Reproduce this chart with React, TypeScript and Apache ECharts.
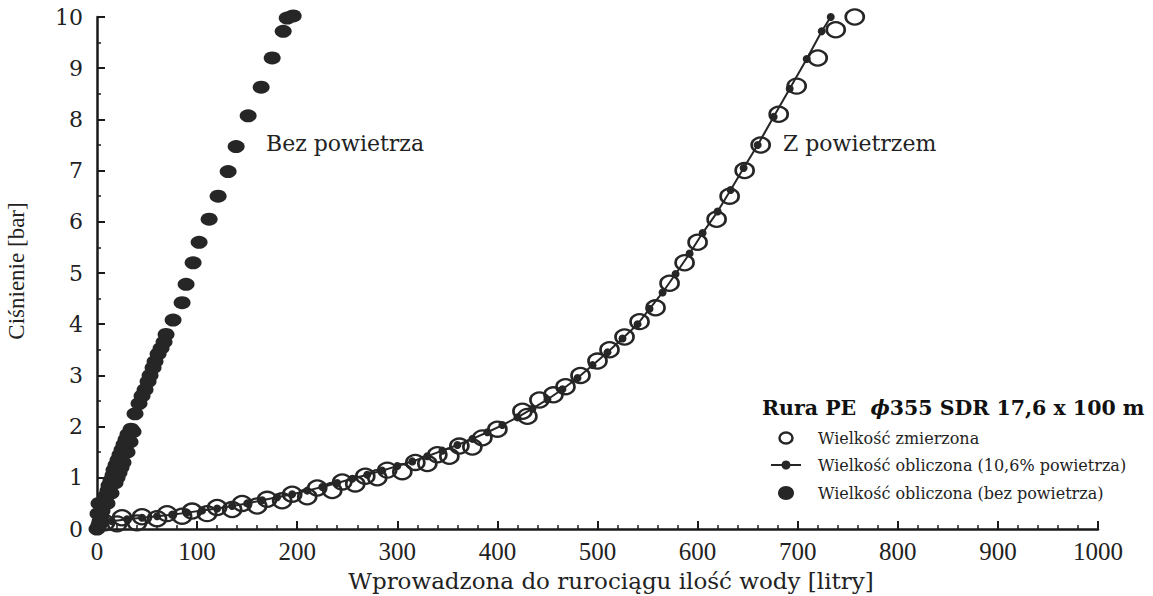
import React, { useEffect, useRef } from "react";
import * as echarts from "echarts";

// x: water volume introduced [litres], y: pressure [bar]
const bezPowietrza: [number, number][] = [
  [0, 0], [1, 0.3], [2, 0.08], [2, 0.5], [3, 0.15], [4, 0.25], [5, 0.35], [6, 0.45], [8, 0.55],
  [9, 0.65], [10, 0.5], [11, 0.75], [12, 0.85], [14, 0.7], [14, 0.95], [16, 1.05], [17, 1.15],
  [18, 0.9], [19, 1.25], [20, 1.0], [21, 1.35], [22, 1.1], [23, 1.45], [24, 1.2], [25, 1.55],
  [26, 1.3], [27, 1.65], [29, 1.75], [30, 1.5], [31, 1.85], [33, 1.7], [34, 1.95], [36, 1.9],
  [38, 2.25], [42, 2.45], [45, 2.6], [48, 2.72], [51, 2.88], [53, 3.0], [56, 3.15], [58, 3.27],
  [61, 3.42], [64, 3.53], [67, 3.65], [69, 3.8], [76, 4.08], [85, 4.42], [89, 4.78], [96, 5.2],
  [102, 5.6], [112, 6.05], [121, 6.5], [131, 6.98], [139, 7.47], [151, 8.07], [164, 8.63],
  [175, 9.2], [186, 9.72], [190, 9.98], [196, 10.02],
];

const obliczona: [number, number][] = [
  [0, 0], [5, 0.1], [15, 0.15], [30, 0.19], [45, 0.22], [60, 0.25], [75, 0.28], [90, 0.32],
  [105, 0.36], [120, 0.4], [135, 0.45], [150, 0.5], [165, 0.56], [180, 0.62], [195, 0.68],
  [210, 0.75], [225, 0.82], [240, 0.9], [255, 0.98], [270, 1.06], [285, 1.14], [300, 1.23],
  [315, 1.32], [330, 1.42], [345, 1.53], [360, 1.64], [375, 1.76], [390, 1.89], [405, 2.03],
  [420, 2.18], [435, 2.35], [450, 2.53], [465, 2.73], [480, 2.95], [495, 3.2], [510, 3.45],
  [525, 3.72], [540, 4.0], [552, 4.3], [565, 4.62], [578, 4.98], [592, 5.38], [605, 5.78],
  [620, 6.2], [633, 6.62], [646, 7.05], [660, 7.5], [676, 8.05], [692, 8.6], [709, 9.18],
  [724, 9.72], [733, 10.0],
];

const zmierzona: [number, number][] = [
  [8, 0.12], [20, 0.1], [25, 0.22], [40, 0.12], [45, 0.24], [60, 0.2], [70, 0.3], [85, 0.25],
  [95, 0.35], [110, 0.3], [120, 0.42], [135, 0.38], [145, 0.5], [160, 0.45], [170, 0.58],
  [185, 0.55], [195, 0.68], [210, 0.63], [220, 0.8], [235, 0.75], [245, 0.92], [258, 0.88],
  [268, 1.03], [280, 1.0], [290, 1.15], [305, 1.12], [318, 1.3], [330, 1.28], [340, 1.45],
  [352, 1.42], [362, 1.62], [375, 1.6], [385, 1.78], [400, 1.95], [425, 2.3], [430, 2.2],
  [442, 2.52], [456, 2.62], [468, 2.78], [483, 3.0], [500, 3.28], [512, 3.5], [527, 3.75],
  [542, 4.05], [558, 4.32], [572, 4.8], [587, 5.2], [600, 5.6], [619, 6.05], [632, 6.5],
  [647, 7.0], [663, 7.5], [681, 8.1], [699, 8.65], [720, 9.2], [738, 9.75], [757, 10.0],
];

const xTitle = "Wprowadzona do rurociągu ilość wody [litry]";
const yTitle = "Ciśnienie [bar]";
const legendTitle = "Rura PE";
const legendNames = [
  "Wielkość zmierzona",
  "Wielkość obliczona (10,6% powietrza)",
  "Wielkość obliczona (bez powietrza)",
];
const annotBez = "Bez powietrza";
const annotZ = "Z powietrzem";

const INK = "#262626";
const SERIF = "'Liberation Serif', 'DejaVu Serif', serif";
const WIDE = "'DejaVu Serif', 'Liberation Serif', serif";

export default function App() {
  const ref = useRef<HTMLDivElement>(null);
  useEffect(() => {
    if (!ref.current) return;
    const chart = echarts.init(ref.current, undefined, { renderer: "svg" });
    const axisCommon = {
      type: "value" as const,
      axisLine: { show: true, onZero: false, lineStyle: { color: "#1a1a1a", width: 2.5 } },
      axisTick: { show: true, inside: true, length: 8, lineStyle: { color: "#1a1a1a", width: 2 } },
      minorTick: { show: true, length: 4, lineStyle: { color: "#1a1a1a", width: 1.5 } },
      splitLine: { show: false },
      minorSplitLine: { show: false },
    };
    chart.setOption({
      animation: false,
      backgroundColor: "#ffffff",
      grid: { left: 97, right: 55, top: 17, bottom: 67, containLabel: false },
      xAxis: {
        ...axisCommon,
        min: 0,
        max: 1000,
        interval: 100,
        minorTick: { ...axisCommon.minorTick, splitNumber: 5 },
        axisLabel: {
          fontFamily: SERIF,
          fontSize: 25,
          color: "#222",
          margin: 10,
          formatter: (v: number) => String(v),
        },
      },
      yAxis: {
        ...axisCommon,
        min: 0,
        max: 10,
        interval: 1,
        minorTick: { ...axisCommon.minorTick, splitNumber: 2 },
        axisLabel: {
          fontFamily: WIDE,
          fontSize: 22,
          color: "#222",
          margin: 14,
          formatter: (v: number) => String(v),
        },
      },
      series: [
        {
          name: legendNames[2],
          type: "scatter",
          data: bezPowietrza,
          symbol: "circle",
          symbolSize: [17, 13],
          itemStyle: { color: INK, opacity: 1 },
          clip: false,
        },
        {
          name: legendNames[1],
          type: "line",
          data: obliczona,
          symbol: "circle",
          symbolSize: 8,
          showAllSymbol: true,
          lineStyle: { color: INK, width: 2 },
          itemStyle: { color: INK },
          clip: false,
        },
        {
          name: legendNames[0],
          type: "scatter",
          data: zmierzona,
          symbol: "circle",
          symbolSize: [18, 15],
          itemStyle: { color: "rgba(0,0,0,0)", borderColor: INK, borderWidth: 2.5, opacity: 1 },
          clip: false,
        },
      ],
      graphic: [
        {
          type: "text",
          x: 611,
          y: 581,
          style: { text: xTitle, font: `23px ${WIDE}`, fill: "#222", align: "center", verticalAlign: "middle" },
        },
        {
          type: "text",
          x: 16,
          y: 271,
          rotation: Math.PI / 2,
          style: { text: yTitle, font: `23px ${SERIF}`, fill: "#222", align: "center", verticalAlign: "middle" },
        },
        {
          type: "text",
          x: 266,
          y: 143,
          style: { text: annotBez, font: `22px ${WIDE}`, fill: "#222", align: "left", verticalAlign: "middle" },
        },
        {
          type: "text",
          x: 783,
          y: 143,
          style: { text: annotZ, font: `22px ${WIDE}`, fill: "#222", align: "left", verticalAlign: "middle" },
        },
        {
          type: "text",
          x: 762,
          y: 408,
          style: {
            text: `{b|${legendTitle}  }{i|ϕ}{b|355 SDR 17,6 x 100 m}`,
            align: "left",
            verticalAlign: "middle",
            rich: {
              b: { font: `bold 20.5px ${WIDE}`, fill: "#111" },
              i: { font: `italic bold 20.5px ${WIDE}`, fill: "#111" },
            },
          },
        },
        {
          type: "ellipse",
          shape: { cx: 786, cy: 438, rx: 6.5, ry: 5.5 },
          style: { fill: "none", stroke: INK, lineWidth: 2.5 },
        },
        {
          type: "line",
          shape: { x1: 771, y1: 465, x2: 801, y2: 465 },
          style: { stroke: INK, lineWidth: 2 },
        },
        {
          type: "circle",
          shape: { cx: 786, cy: 465, r: 4.5 },
          style: { fill: INK },
        },
        {
          type: "ellipse",
          shape: { cx: 786, cy: 493, rx: 8, ry: 7 },
          style: { fill: INK },
        },
        ...legendNames.map((n, i) => ({
          type: "text",
          x: 818,
          y: 438 + i * 27.5,
          style: { text: n, font: `16px ${WIDE}`, fill: "#222", align: "left", verticalAlign: "middle" },
        })),
      ],
    });
    return () => chart.dispose();
  }, []);
  return (
    <div
      ref={ref}
      style={{ position: "fixed", left: 0, top: 0, width: 1153, height: 596, background: "#fff" }}
    />
  );
}
